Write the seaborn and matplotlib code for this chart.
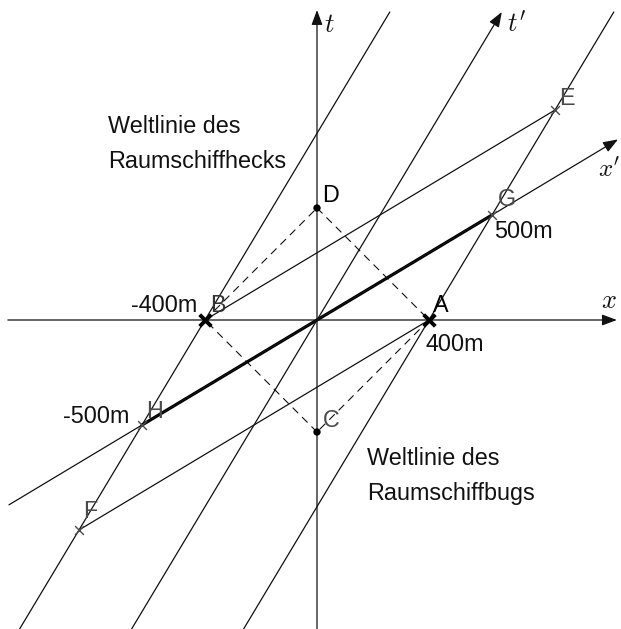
import matplotlib
matplotlib.use("Agg")
import matplotlib.pyplot as plt
import seaborn as sns

# Events in the rest frame S: x in metres, t in metres of light travel (c t)
event_names = ["A", "B", "C", "D", "E", "F", "G", "H"]
event_x = [400, -400, 0, 0, 850, -850, 625, -625]
event_t = [0, 0, -400, 400, 750, -750, 375, -375]

# Length annotations attached to events
dist_events = ["A", "B", "G", "H"]
dist_text = ["400m", "-400m", "500m", "-500m"]

# World-line captions
caption_rear = ["Weltlinie des", "Raumschiffhecks"]
caption_front = ["Weltlinie des", "Raumschiffbugs"]

# ---------------------------------------------------------------------------
W, H = 621, 629
SCALE = 0.28            # pixels per metre
OX, OY = 317, 320       # origin in pixels

sns.set_theme(style="white")
plt.rcParams["font.family"] = ["Liberation Sans", "DejaVu Sans"]
plt.rcParams["mathtext.fontset"] = "cm"

fig = plt.figure(figsize=(W / 100, H / 100), dpi=100)
ax = fig.add_axes([0, 0, 1, 1])
ax.set_xlim(-OX / SCALE, (W - OX) / SCALE)
ax.set_ylim(-(H - OY) / SCALE, OY / SCALE)
ax.axis("off")

ev = {n: (x, t) for n, x, t in zip(event_names, event_x, event_t)}
INK = "#111111"
GREY = "#4a4a4a"
THIN = 0.9
FS = 16.8


def seg(p, q, **kw):
    kw.setdefault("color", INK)
    kw.setdefault("linewidth", THIN)
    sns.lineplot(x=[p[0], q[0]], y=[p[1], q[1]], sort=False, estimator=None,
                 ax=ax, legend=False, **kw)


def line_through(p, q, t0, t1):
    """Points on the line through events p and q at times t0 and t1."""
    k = (q[0] - p[0]) / (q[1] - p[1])
    return (p[0] + k * (t0 - p[1]), t0), (p[0] + k * (t1 - p[1]), t1)


def arrow(tail, tip):
    ax.annotate("", xy=tip, xytext=tail,
                arrowprops=dict(arrowstyle="-|>,head_length=0.75,head_width=0.28",
                                mutation_scale=12, lw=THIN, color=INK,
                                shrinkA=0, shrinkB=0))


T_TOP = 1100
T_BOT = -1200

# world lines of the rear (through B, H, F) and of the front (through A, G, E)
seg(*line_through(ev["F"], ev["B"], T_BOT, T_TOP))
seg(*line_through(ev["A"], ev["E"], T_BOT, T_TOP))

# lines of simultaneity in S' through B and through A
seg(ev["B"], ev["E"])
seg(ev["F"], ev["A"])

# light signals
for p, q in [("B", "D"), ("D", "A"), ("A", "C"), ("C", "B")]:
    seg(ev[p], ev[q], linestyle=(0, (7, 5)), linewidth=0.8)

# coordinate axes
arrow((-1104, 0), (1071, 0))                               # x
arrow((0, T_BOT), (0, 1107))                               # t
k_t = (ev["E"][0] - ev["A"][0]) / (ev["E"][1] - ev["A"][1])
arrow((k_t * T_BOT, T_BOT), (k_t * T_TOP, T_TOP))          # t'
k_x = ev["G"][1] / ev["G"][0]
arrow((-1100, -1100 * k_x), (1075, 1075 * k_x))            # x'

# proper length of the ship in S'
seg(ev["H"], ev["G"], linewidth=2.3, color="black")

# event markers
sns.scatterplot(x=[ev[n][0] for n in "AB"], y=[ev[n][1] for n in "AB"],
                marker="x", s=70, linewidth=2.8, color="black", ax=ax,
                legend=False, zorder=5)
sns.scatterplot(x=[ev[n][0] for n in "EFGH"], y=[ev[n][1] for n in "EFGH"],
                marker="x", s=40, linewidth=1.0, color=GREY, ax=ax,
                legend=False, zorder=5)
sns.scatterplot(x=[ev[n][0] for n in "CD"], y=[ev[n][1] for n in "CD"],
                s=28, color="black", edgecolor="none", ax=ax, legend=False,
                zorder=5)

# event letters (offsets in pixels: right, up)
letter_offset = {"A": (4, 8), "B": (5, 8), "C": (6, 5), "D": (5, 6),
                 "E": (4, 5), "F": (4, 12), "G": (6, 9), "H": (4, 7)}
letter_color = {"A": "black", "B": "#333333", "C": GREY, "D": "black",
                "E": GREY, "F": GREY, "G": GREY, "H": GREY}
for n in event_names:
    dx, dy = letter_offset[n]
    ax.annotate(n, xy=ev[n], xytext=(dx * 0.72, dy * 0.72),
                textcoords="offset points", ha="left", va="baseline",
                fontsize=FS, color=letter_color[n])

# length labels
dist_offset = {"A": (-4, -31, "left"), "B": (-8, 8, "right"),
               "G": (2, -23, "left"), "H": (-13, 2, "right")}
for n, s in zip(dist_events, dist_text):
    dx, dy, ha = dist_offset[n]
    ax.annotate(s, xy=ev[n], xytext=(dx * 0.72, dy * 0.72),
                textcoords="offset points", ha=ha, va="baseline",
                fontsize=FS, color=INK)


def px_text(px, py, s, **kw):
    ax.text(px / W, 1 - py / H, s, transform=ax.transAxes,
            ha="left", va="baseline", **kw)


# captions
px_text(108, 133, caption_rear[0], fontsize=FS, color=INK)
px_text(108, 168, caption_rear[1], fontsize=FS, color=INK)
px_text(367, 465, caption_front[0], fontsize=FS, color=INK)
px_text(367, 500, caption_front[1], fontsize=FS, color=INK)

# axis names
px_text(324, 32, r"$t$", fontsize=19, color=INK)
px_text(507, 32, r"$t'$", fontsize=19, color=INK)
px_text(598, 177, r"$x'$", fontsize=18, color=INK)
px_text(601, 308, r"$x$", fontsize=19, color=INK)

fig.savefig("out.png", dpi=100, facecolor="white")
